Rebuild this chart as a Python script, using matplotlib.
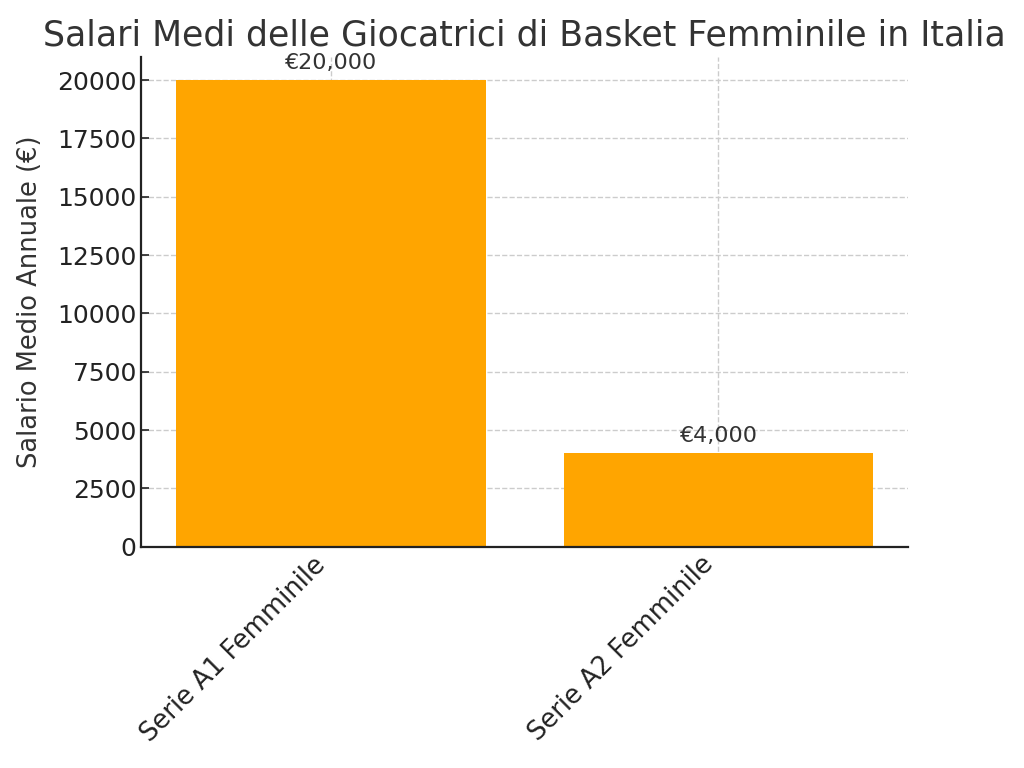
import matplotlib
matplotlib.use('Agg')
import matplotlib.pyplot as plt

leagues = ["Serie A1 Femminile", "Serie A2 Femminile"]
salaries = [20000, 4000]

plt.rcParams['text.color'] = '#333333'
plt.rcParams['axes.labelcolor'] = '#333333'
plt.rcParams['xtick.color'] = '#222222'
plt.rcParams['ytick.color'] = '#222222'

fig = plt.figure(figsize=(10.24, 7.68), dpi=100)
ax = fig.add_axes([0.138, 0.288, 0.749, 0.638])

bars = ax.bar(leagues, salaries, color="orange", width=0.8, zorder=2)

for bar, val in zip(bars, salaries):
    ax.text(bar.get_x() + bar.get_width() / 2, val + 300, "€{:,}".format(val),
            ha="center", va="bottom", fontsize=16)

ax.set_title("Salari Medi delle Giocatrici di Basket Femminile in Italia", fontsize=25, pad=8)
ax.set_ylabel("Salario Medio Annuale (€)", fontsize=18.5, labelpad=10)
ax.set_yticks(range(0, 20001, 2500))
ax.tick_params(axis='y', labelsize=18, direction='in', width=1.2, length=6)
ax.tick_params(axis='x', labelsize=18.5, direction='in', width=1.2, length=6)
plt.setp(ax.get_xticklabels(), rotation=45, ha="right")

ax.grid(True, linestyle="--", color="#cccccc", linewidth=1, zorder=0)
ax.set_axisbelow(True)
ax.spines["top"].set_visible(False)
ax.spines["right"].set_visible(False)
for side in ["left", "bottom"]:
    ax.spines[side].set_color("#222222")
    ax.spines[side].set_linewidth(1.6)

fig.savefig("out.png", dpi=100)
